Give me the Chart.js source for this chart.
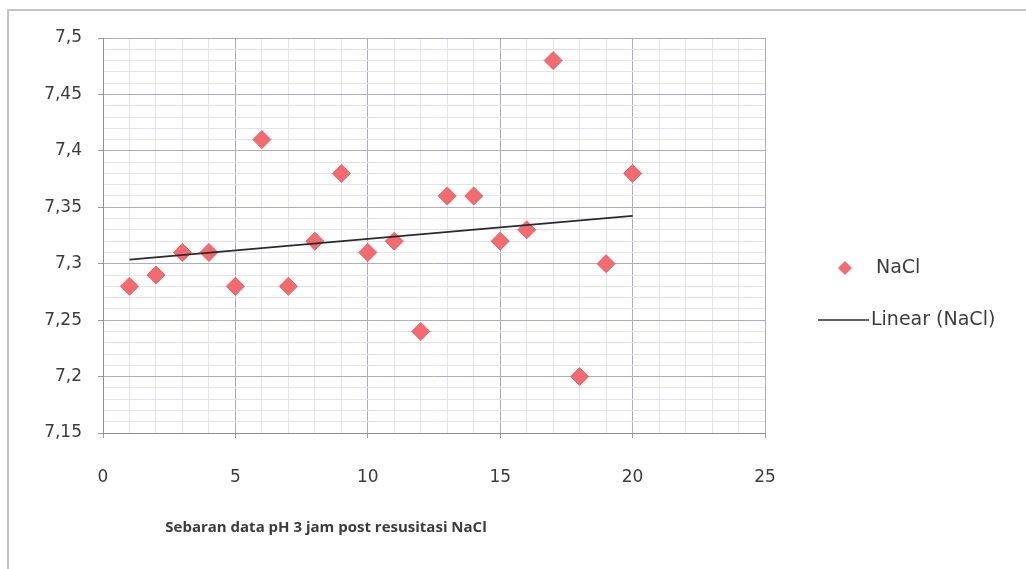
<!DOCTYPE html>
<html>
<head>
<meta charset="utf-8">
<title>Sebaran data pH 3 jam post resusitasi NaCl</title>
<script src="https://cdn.jsdelivr.net/npm/chart.js@4.4.0/dist/chart.umd.min.js"></script>
<style>
    html, body { margin: 0; padding: 0; background: #fff; overflow: hidden; }
    #frame {
        position: absolute; left: 7px; top: 9px; width: 1100px; height: 600px;
        border: 1px solid #c4c4c4; border-width: 2px 0 0 2px; box-sizing: border-box;
    }
    #wrap { position: absolute; left: 0; top: 0; width: 1026px; height: 569px; }
</style>
</head>
<body>
<div id="frame"></div>
<div id="wrap"><canvas id="phChart" width="1026" height="569"></canvas></div>
<script>
// Data
const sampleNo = [1, 2, 3, 4, 5, 6, 7, 8, 9, 10, 11, 12, 13, 14, 15, 16, 17, 18, 19, 20];
const phNaCl = [7.28, 7.29, 7.31, 7.31, 7.28, 7.41, 7.28, 7.32, 7.38, 7.31,
                7.32, 7.24, 7.36, 7.36, 7.32, 7.33, 7.48, 7.20, 7.30, 7.38];
const xRange = [0, 25];
const yRange = [7.15, 7.5];
const seriesName = 'NaCl';
const trendName = 'Linear (NaCl)';
const axisTitle = 'Sebaran data pH 3 jam post resusitasi NaCl';

const markerColor = '#f26b70';
const gridMajor = '#adadc2';
const gridMinor = '#e2e2ed';
const textColor = '#3c3c3c';
const fontFamily = "'DejaVu Sans', 'Open Sans', sans-serif";

// Least squares trend line
function linearFit(xs, ys) {
    const n = xs.length;
    const mx = xs.reduce((a, b) => a + b, 0) / n;
    const my = ys.reduce((a, b) => a + b, 0) / n;
    let sxy = 0, sxx = 0;
    for (let i = 0; i < n; i++) {
        sxy += (xs[i] - mx) * (ys[i] - my);
        sxx += (xs[i] - mx) * (xs[i] - mx);
    }
    const slope = sxy / sxx;
    return { slope: slope, intercept: my - slope * mx };
}
const fit = linearFit(sampleNo, phNaCl);
const xFirst = sampleNo[0], xLast = sampleNo[sampleNo.length - 1];
const trendPoints = [
    { x: xFirst, y: fit.intercept + fit.slope * xFirst },
    { x: xLast, y: fit.intercept + fit.slope * xLast }
];

const isMajorX = v => Math.round(v) % 5 === 0;
const isMajorY = v => Math.round(v * 100) % 5 === 0;

// Legend + axis title drawn like the spreadsheet version
const sideLegend = {
    id: 'sideLegend',
    afterDraw(chart) {
        const ctx = chart.ctx;
        ctx.save();
        ctx.textBaseline = 'middle';
        ctx.textAlign = 'left';
        ctx.font = "19px " + fontFamily;

        // marker entry
        const mx = 845, my = 268, r = 7;
        ctx.beginPath();
        ctx.moveTo(mx - r, my); ctx.lineTo(mx, my - r);
        ctx.lineTo(mx + r, my); ctx.lineTo(mx, my + r);
        ctx.closePath();
        ctx.fillStyle = markerColor;
        ctx.fill();
        ctx.fillStyle = textColor;
        ctx.fillText(seriesName, 876, my);

        // trend entry
        const ly = 320;
        ctx.beginPath();
        ctx.moveTo(818, ly); ctx.lineTo(869, ly);
        ctx.strokeStyle = '#2b2b2b';
        ctx.lineWidth = 1.5;
        ctx.stroke();
        ctx.fillText(trendName, 871, ly);

        // x axis title
        ctx.font = "bold 15px 'Open Sans', sans-serif";
        ctx.textAlign = 'center';
        ctx.fillText(axisTitle, 326, 528);
        ctx.restore();
    }
};

new Chart(document.getElementById('phChart'), {
    data: {
        datasets: [{
            type: 'line',
            label: trendName,
            data: trendPoints,
            borderColor: '#2b2b2b',
            borderWidth: 1.8,
            pointRadius: 0,
            fill: false,
            order: 0
        }, {
            type: 'scatter',
            label: seriesName,
            data: sampleNo.map((x, i) => ({ x: x, y: phNaCl[i] })),
            pointStyle: 'rectRot',
            pointRadius: 9,
            backgroundColor: markerColor,
            borderColor: '#ea6066',
            borderWidth: 1,
            order: 1
        }]
    },
    options: {
        responsive: false,
        animation: false,
        devicePixelRatio: 1,
        layout: { padding: { top: 38, right: 261, bottom: 0, left: 0 } },
        plugins: {
            legend: { display: false },
            tooltip: { enabled: false }
        },
        scales: {
            x: {
                type: 'linear',
                min: xRange[0],
                max: xRange[1],
                afterFit: s => { s.height = 136; },
                grid: {
                    color: c => isMajorX(c.tick.value) ? gridMajor : gridMinor,
                    tickColor: c => isMajorX(c.tick.value) ? '#9a9aaa' : 'rgba(0,0,0,0)',
                    tickLength: 5
                },
                border: { color: '#8e8e9e', width: 1 },
                ticks: {
                    stepSize: 1,
                    autoSkip: false,
                    maxRotation: 0,
                    padding: 29,
                    color: textColor,
                    font: { family: fontFamily, size: 17 },
                    callback: v => isMajorX(v) ? String(v) : ''
                }
            },
            y: {
                type: 'linear',
                min: yRange[0],
                max: yRange[1],
                afterFit: s => { s.width = 103; },
                grid: {
                    color: c => isMajorY(c.tick.value) ? gridMajor : gridMinor,
                    tickColor: c => isMajorY(c.tick.value) ? '#9a9aaa' : 'rgba(0,0,0,0)',
                    tickLength: 5
                },
                border: { color: '#8e8e9e', width: 1 },
                ticks: {
                    stepSize: 0.01,
                    autoSkip: false,
                    padding: 16,
                    color: textColor,
                    font: { family: fontFamily, size: 17 },
                    callback: v => isMajorY(v) ? String(Math.round(v * 100) / 100).replace('.', ',') : ''
                }
            }
        }
    },
    plugins: [sideLegend]
});
</script>
</body>
</html>
